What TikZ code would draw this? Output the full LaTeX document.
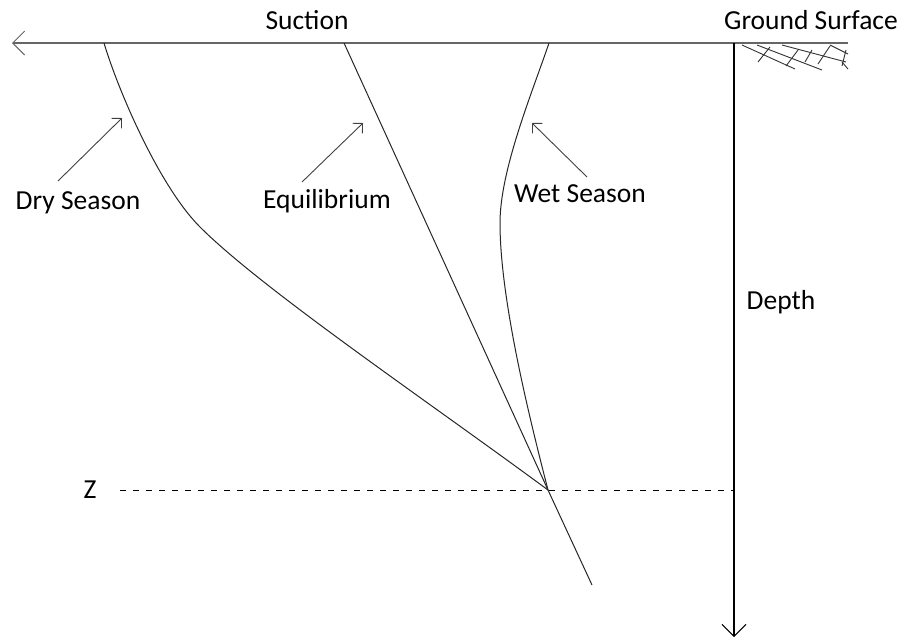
\documentclass[tikz,border=0pt]{standalone}
\usepackage{fontspec}
\setmainfont{Carlito}
\usetikzlibrary{arrows.meta}
\begin{document}
\begin{tikzpicture}[x=1pt,y=-1pt,
  lbl/.style={font=\fontsize{27.5}{32}\selectfont, inner sep=0pt, anchor=center},
  curve/.style={line width=1pt, black!85},
  axisarrow/.style={-{Straight Barb[length=12pt,width=24pt,line width=1pt]}},
  ptr/.style={line width=0.9pt, black!75, -{Straight Barb[length=7pt,width=14pt,line width=0.9pt]}},
  hatch/.style={line width=0.9pt, black!80}]
\useasboundingbox (0,0) rectangle (904,641);
% key coordinates
\coordinate (O) at (734,43);
\coordinate (sucEnd) at (12,43);
\coordinate (grEnd) at (848,43);
\coordinate (depEnd) at (734,637);
\coordinate (P) at (548,490);
\coordinate (Pext) at (592,585);
\coordinate (eqTop) at (344,43);
\coordinate (dryTop) at (104,43);
\coordinate (dryMid) at (200,227);
\coordinate (wetTop) at (549,43);
\coordinate (wetMid) at (500,223);
\coordinate (dashL) at (120,490);
\coordinate (dashR) at (734,490);
% axes
\draw[line width=2pt, black!60] (O) -- (grEnd);
\draw[line width=2pt, black!60, axisarrow] (O) -- (sucEnd);
\draw[line width=1.3pt, black, axisarrow] (O) -- (depEnd);
% hatching
\draw[hatch] (742,45) -- (795,69) (757,45) -- (822,70) (782,45) -- (846,62) (830,45) -- (848,54);
\draw[hatch] (770,47) -- (758,62) (798,50) -- (786,66) (812,50) -- (805,62) (830,46) -- (818,64) (846,50) -- (842,66);
\draw[hatch] (842,62) -- (848,69);
% dashed Z line
\draw[line width=1pt, dash pattern=on 6pt off 7pt] (dashL) -- (dashR);
% curves
\draw[curve] (eqTop) -- (P) -- (Pext);
\draw[curve] (dryTop) .. controls (119,93) and (160,187) .. (dryMid)
  .. controls (262,289) and (426,400) .. (P);
\draw[curve] (wetTop) .. controls (532,93) and (500,170) .. (wetMid)
  .. controls (500,300) and (530,420) .. (P);
% labels
\node[lbl] (suction) at (307,20) {Suction};
\node[lbl] (ground) at (811,20) {Ground Surface};
\node[lbl] (dry) at (78,203) {Dry Season};
\node[lbl] (equil) at (327,201) {Equilibrium};
\node[lbl] (wet) at (580,194) {Wet Season};
\node[lbl] (depth) at (781,302) {Depth};
\node[lbl] (zl) at (90,490) {Z};
% pointer arrows
\coordinate (dryS) at (58,181); \coordinate (dryT) at (122,118);
\coordinate (eqS) at (302,182); \coordinate (eqT) at (363,123);
\coordinate (wetS) at (587,177); \coordinate (wetT) at (532,123);
\draw[ptr] (dryS) -- (dryT);
\draw[ptr] (eqS) -- (eqT);
\draw[ptr] (wetS) -- (wetT);
\end{tikzpicture}
\end{document}
